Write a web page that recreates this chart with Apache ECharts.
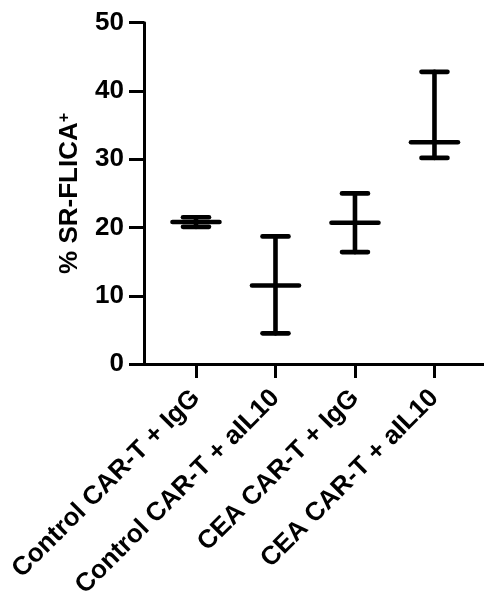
<!DOCTYPE html>
<html>
<head>
<meta charset="utf-8">
<script src="https://cdn.jsdelivr.net/npm/echarts@6/dist/echarts.min.js"></script>
<style>
html,body{margin:0;padding:0;background:#fff;}
#chart{width:484px;height:601px;}
</style>
</head>
<body>
<div id="chart"></div>
<script>
var categories = ['Control CAR-T + IgG', 'Control CAR-T + aIL10', 'CEA CAR-T + IgG', 'CEA CAR-T + aIL10'];
var meanValues = [20.8, 11.5, 20.7, 32.5];
var lowValues = [20.1, 4.5, 16.4, 30.2];
var highValues = [21.5, 18.7, 25.0, 42.8];
var yTicks = [0, 10, 20, 30, 40, 50];

var FONT = "'Liberation Sans', Arial, Helvetica, sans-serif";
var data = categories.map(function (c, i) {
  return [i, meanValues[i], lowValues[i], highValues[i]];
});

var chart = echarts.init(document.getElementById('chart'), null, {renderer: 'canvas'});
chart.setOption({
  backgroundColor: '#fff',
  animation: false,
  grid: {left: 144, right: 0, top: 22.7, bottom: 234.3, containLabel: false},
  xAxis: {
    type: 'value',
    min: -0.654,
    max: 3.623,
    splitLine: {show: false},
    axisLine: {show: true, onZero: false, lineStyle: {color: '#000', width: 3}},
    axisTick: {show: true, length: 14, lineStyle: {color: '#000', width: 3}, customValues: [0, 1, 2, 3]},
    axisLabel: {
      show: true,
      customValues: [0, 1, 2, 3],
      rotate: 45,
      margin: 30,
      color: '#000',
      fontFamily: FONT,
      fontWeight: 'bold',
      fontSize: 26,
      formatter: function (v) { return categories[Math.round(v)] || ''; }
    }
  },
  yAxis: {
    type: 'value',
    min: 0,
    max: 50,
    interval: 10,
    splitLine: {show: false},
    axisLine: {show: true, onZero: false, lineStyle: {color: '#000', width: 3}},
    axisTick: {show: true, length: 15, lineStyle: {color: '#000', width: 3}},
    axisLabel: {
      color: '#000', fontFamily: FONT, fontWeight: 'bold', fontSize: 26, margin: 20,
      formatter: function (v) { return yTicks.indexOf(v) >= 0 ? String(v) : ''; }
    },
    name: '% SR-FLICA{sup|+}',
    nameLocation: 'middle',
    nameGap: 61,
    nameTextStyle: {
      color: '#000', fontFamily: FONT, fontWeight: 'bold', fontSize: 26,
      rich: {
        sup: {color: '#000', fontFamily: FONT, fontWeight: 'bold', fontSize: 16, verticalAlign: 'top', padding: [0, 0, 10, 0]}
      }
    }
  },
  series: [{
    type: 'custom',
    data: data,
    encode: {x: 0, y: [1, 2, 3]},
    renderItem: function (params, api) {
      var x = api.value(0);
      var m = api.coord([x, api.value(1)]);
      var lo = api.coord([x, api.value(2)]);
      var hi = api.coord([x, api.value(3)]);
      var st = {stroke: '#000', lineWidth: 4.6, lineCap: 'round'};
      var capHalf = 13;
      var meanHalf = 23.5;
      return {
        type: 'group',
        children: [
          {type: 'line', shape: {x1: m[0], y1: hi[1], x2: m[0], y2: lo[1]}, style: st},
          {type: 'line', shape: {x1: m[0] - capHalf, y1: hi[1], x2: m[0] + capHalf, y2: hi[1]}, style: st},
          {type: 'line', shape: {x1: m[0] - capHalf, y1: lo[1], x2: m[0] + capHalf, y2: lo[1]}, style: st},
          {type: 'line', shape: {x1: m[0] - meanHalf, y1: m[1], x2: m[0] + meanHalf, y2: m[1]}, style: st}
        ]
      };
    }
  }]
});
</script>
</body>
</html>
